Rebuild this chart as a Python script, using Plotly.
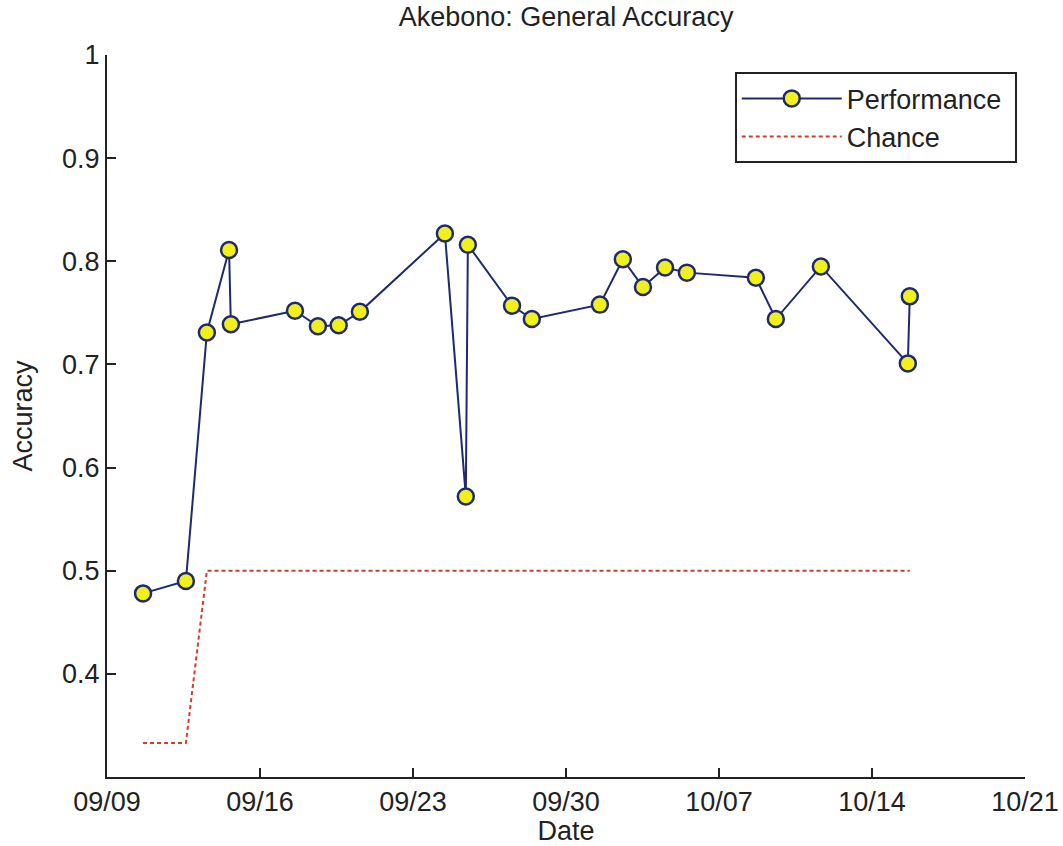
import plotly.graph_objects as go

dates = [
    "2009-09-10 15:36", "2009-09-12 14:38", "2009-09-13 13:40", "2009-09-14 14:00",
    "2009-09-14 16:00", "2009-09-17 14:24", "2009-09-18 15:36", "2009-09-19 14:24",
    "2009-09-20 13:40", "2009-09-24 11:00", "2009-09-25 10:00", "2009-09-25 12:15",
    "2009-09-27 12:45", "2009-09-28 10:30", "2009-10-01 13:12", "2009-10-02 14:24",
    "2009-10-03 12:30", "2009-10-04 12:45", "2009-10-05 12:45", "2009-10-08 16:30",
    "2009-10-09 14:24", "2009-10-11 15:50", "2009-10-15 15:20", "2009-10-15 17:30",
]
performance = [
    0.478, 0.490, 0.731, 0.811, 0.739, 0.752, 0.737, 0.738,
    0.751, 0.827, 0.572, 0.816, 0.757, 0.744, 0.758, 0.802,
    0.775, 0.794, 0.789, 0.784, 0.744, 0.795, 0.701, 0.766,
]
chance = [0.333, 0.333] + [0.5] * 22

tick_vals = ["2009-09-09", "2009-09-16", "2009-09-23", "2009-09-30",
             "2009-10-07", "2009-10-14", "2009-10-21"]
tick_text = ["09/09", "09/16", "09/23", "09/30", "10/07", "10/14", "10/21"]
y_ticks = [0.4, 0.5, 0.6, 0.7, 0.8, 0.9, 1]
y_tick_text = ["0.4", "0.5", "0.6", "0.7", "0.8", "0.9", "1"]

FONT = "Liberation Sans, Arial, Helvetica, sans-serif"
NAVY = "#1f2a6e"
INK = "#222222"
PAD = "\u00a0"

fig = go.Figure()
fig.add_trace(go.Scatter(
    x=dates, y=performance, name="Performance" + PAD, mode="lines+markers",
    line=dict(color=NAVY, width=2),
    marker=dict(symbol="circle", size=16, color="#f2f01a",
                line=dict(color=NAVY, width=2.5)),
))
fig.add_trace(go.Scatter(
    x=dates, y=chance, name="Chance", mode="lines",
    line=dict(color="#d63a2a", width=2, dash="4px,3px"),
))

fig.update_layout(
    width=1063, height=846,
    margin=dict(l=107, r=38, t=55, b=69, autoexpand=False),
    paper_bgcolor="white", plot_bgcolor="white",
    font=dict(family=FONT, size=27, color=INK),
    title=dict(text="Akebono: General Accuracy", x=0.5325, xanchor="center",
               y=0.992, yanchor="top", font=dict(size=27, family=FONT, color=INK)),
    showlegend=True,
    legend=dict(
        x=0.991, y=0.976, xanchor="right", yanchor="top",
        bgcolor="white", bordercolor=INK, borderwidth=2,
        font=dict(size=27, family=FONT, color=INK),
        itemwidth=100,
    ),
    xaxis=dict(
        type="date", automargin=False,
        range=["2009-09-09", "2009-10-21"],
        tickmode="array", tickvals=tick_vals, ticktext=tick_text,
        ticks="inside", ticklen=9, tickwidth=2, tickcolor=INK,
        showline=True, linecolor=INK, linewidth=2,
        showgrid=False, zeroline=False,
        tickfont=dict(size=27, family=FONT, color=INK),
        title=dict(text="Date", font=dict(size=27, family=FONT, color=INK), standoff=10),
    ),
    yaxis=dict(
        range=[0.3, 1.0], automargin=False,
        tickmode="array", tickvals=y_ticks, ticktext=y_tick_text,
        ticks="inside", ticklen=9, tickwidth=2, tickcolor=INK,
        showline=True, linecolor=INK, linewidth=2,
        showgrid=False, zeroline=False,
        tickfont=dict(size=27, family=FONT, color=INK),
        title=dict(text="Accuracy", font=dict(size=27, family=FONT, color=INK), standoff=22),
    ),
)

fig.write_html("out.html")
